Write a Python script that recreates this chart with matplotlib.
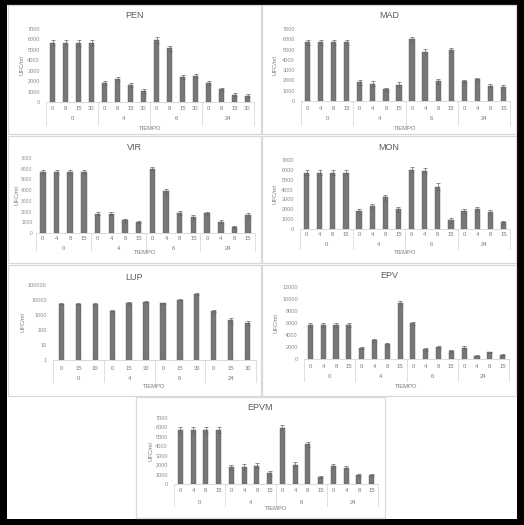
import matplotlib
matplotlib.use("Agg")
import matplotlib.pyplot as plt
from matplotlib.patches import Rectangle
from matplotlib.lines import Line2D
from matplotlib import transforms
import numpy as np

plt.rcParams["font.family"] = ["Liberation Sans", "DejaVu Sans"]

W, H = 524, 525
DPI = 100

# ---- data -------------------------------------------------------------
GROUPS = ["0", "4", "6", "24"]
SUB_A = ["0", "8", "15", "30"]
SUB_B = ["0", "4", "8", "15"]
SUB_C = ["0", "15", "30"]

pen_values = [5700, 5700, 5650, 5700, 1800, 2200, 1600, 1050,
              5950, 5150, 2400, 2500, 1850, 1200, 700, 600]
pen_err = [250, 250, 250, 250, 200, 200, 200, 150,
           250, 250, 200, 200, 200, 150, 150, 150]

mad_values = [5700, 5700, 5700, 5700, 1800, 1700, 1150, 1600,
              6000, 4800, 1900, 5000, 1900, 2100, 1500, 1400]
mad_err = [250, 250, 250, 250, 200, 200, 150, 200,
           200, 250, 200, 200, 150, 150, 150, 150]

vir_values = [5700, 5700, 5700, 5700, 1800, 1800, 1200, 1050,
              6000, 3900, 1850, 1500, 1850, 1050, 600, 1650]
vir_err = [200, 200, 200, 200, 150, 150, 150, 100,
           200, 250, 200, 150, 150, 150, 100, 200]

mon_values = [5700, 5700, 5700, 5700, 1800, 2300, 3200, 2000,
              6000, 5900, 4300, 900, 1850, 2000, 1750, 700]
mon_err = [250, 250, 250, 250, 200, 250, 300, 250,
           250, 250, 350, 250, 200, 200, 200, 150]

lup_values = [5600, 5600, 5600, 1900, 6300, 7300,
              5900, 10500, 25700, 1900, 460, 316]
lup_err = [500, 500, 500, 200, 600, 700,
           600, 1000, 3000, 200, 150, 100]

epv_values = [5700, 5700, 5700, 5700, 1830, 3100, 2500, 9330,
              6000, 1600, 2000, 1280, 1900, 560, 1100, 670]
epv_err = [300, 300, 300, 300, 200, 300, 250, 400,
           250, 200, 200, 200, 200, 100, 150, 100]

epvm_values = [5700, 5700, 5700, 5700, 1780, 1780, 1960, 1150,
               5980, 2060, 4200, 700, 1890, 1750, 950, 950]
epvm_err = [300, 300, 300, 300, 250, 300, 250, 250,
            250, 250, 300, 100, 200, 200, 150, 100]

TICKS_7000 = [0, 1000, 2000, 3000, 4000, 5000, 6000, 7000]
TICKS_12000 = [0, 2000, 4000, 6000, 8000, 10000, 12000]
TICKS_LOG = [1, 10, 100, 1000, 10000, 100000]

# ---- figure -----------------------------------------------------------
fig = plt.figure(figsize=(W / DPI, H / DPI), dpi=DPI)
fig.patch.set_facecolor("black")


def fx(x):
    return x / W


def fy(y):
    return 1 - y / H


# white sheet inside the dark frame
fig.patches.append(Rectangle((fx(7), fy(519)), (517 - 7) / W, (519 - 5) / H,
                             transform=fig.transFigure, facecolor="white",
                             edgecolor="none", zorder=-5))

TICK_COLOR = "#8c8c8c"
TEXT_COLOR = "#7a7a7a"
TITLE_COLOR = "#5a5a5a"
LINE_COLOR = "#d9d9d9"
BAR_COLOR = "#777777"


def draw_panel(panel, axbox, title, title_dy, values, errs, subs, ticks,
               tick_dy, group_dy, label_dy, box_dy, ylabel_x,
               log=False, width=0.4, ypad=4.5, ysize=4.0):
    pl, pt, pr, pb = panel
    fig.patches.append(Rectangle((fx(pl), fy(pb)), (pr - pl) / W, (pb - pt) / H,
                                 transform=fig.transFigure, facecolor="none",
                                 edgecolor=LINE_COLOR, lw=0.9, zorder=-4))
    al, at, ar, ab = axbox
    ax = fig.add_axes([fx(al), fy(ab), (ar - al) / W, (ab - at) / H])
    ax.set_zorder(2)
    ax.patch.set_alpha(0)
    n = len(values)
    x = np.arange(n)
    base = 1 if log else 0
    if log:
        ax.set_yscale("log")
    ax.bar(x, np.array(values) - base, bottom=base, width=width,
           color=BAR_COLOR, edgecolor="#5e5e5e", lw=0.3, zorder=2)
    ax.errorbar(x, values, yerr=errs, fmt="none", ecolor="#666666",
                elinewidth=0.5, capsize=1.6, capthick=0.5, zorder=3)
    ax.set_ylim(ticks[0], ticks[-1])
    ax.set_yticks(ticks)
    ax.set_yticklabels([str(t) for t in ticks])
    ax.minorticks_off()
    ax.set_xlim(-0.5, n - 0.5)
    ax.set_xticks([])
    for s in ax.spines.values():
        s.set_visible(False)
    ax.tick_params(axis="y", length=0, pad=ypad, labelsize=ysize,
                   labelcolor=TICK_COLOR)

    # baseline
    ax.add_line(Line2D([-0.5, n - 0.5], [base, base],
                       color=LINE_COLOR, lw=0.7, zorder=1, clip_on=False))

    trans = transforms.blended_transform_factory(ax.transData, fig.transFigure)
    per = len(subs)
    full_subs = subs * len(GROUPS)
    for i, lab in enumerate(full_subs):
        ax.text(i, fy(ab + tick_dy), lab, transform=trans, ha="center",
                va="center", fontsize=4.2, color=TEXT_COLOR, clip_on=False)
    for g, lab in enumerate(GROUPS):
        cx = g * per + (per - 1) / 2
        ax.text(cx, fy(ab + group_dy), lab, transform=trans, ha="center",
                va="center", fontsize=4.2, color=TEXT_COLOR, clip_on=False)
    for g in range(len(GROUPS) + 1):
        xb = g * per - 0.5
        ax.add_line(Line2D([xb, xb], [fy(ab + 1), fy(ab + box_dy)],
                           transform=trans, color=LINE_COLOR, lw=0.6,
                           clip_on=False))
    ax_fig = transforms.blended_transform_factory(ax.transAxes, fig.transFigure)
    ax.text(0.5, fy(ab + label_dy), "TIEMPO", transform=ax_fig,
            ha="center", va="center", fontsize=4.2, color=TEXT_COLOR,
            clip_on=False)
    fig.text(fx(ylabel_x), fy((at + ab) / 2), "UFC/ml", rotation=90,
             ha="center", va="center", fontsize=4.2, color=TEXT_COLOR)
    fig.text(fx((pl + pr) / 2), fy(pt + title_dy), title, ha="center",
             va="center", fontsize=6.5, color=TITLE_COLOR)
    return ax


draw_panel((8, 5, 261, 134), (46, 29, 254, 102), "PEN", 11,
           pen_values, pen_err, SUB_A, TICKS_7000, 6, 16, 26, 23, 22)
draw_panel((262, 5, 516, 134), (301, 29, 510, 101), "MAD", 11,
           mad_values, mad_err, SUB_B, TICKS_7000, 7, 17, 27, 24, 275)
draw_panel((8, 136, 261, 263), (36, 158, 255, 233), "VIR", 12,
           vir_values, vir_err, SUB_B, TICKS_7000, 5, 15, 20, 18, 17,
           ypad=2.5, ysize=3.6)
draw_panel((262, 136, 516, 263), (300, 160, 510, 229), "MON", 12,
           mon_values, mon_err, SUB_B, TICKS_7000, 6, 15, 24, 20, 275)
draw_panel((8, 265, 261, 396), (53, 285, 256, 360), "LUP", 12,
           lup_values, lup_err, SUB_C, TICKS_LOG, 8, 18, 27, 22, 23,
           log=True, width=0.32)
draw_panel((262, 265, 516, 396), (304, 287, 509, 359), "EPV", 10,
           epv_values, epv_err, SUB_B, TICKS_12000, 8, 18, 27, 22, 276)
draw_panel((136, 397, 385, 518), (174, 418, 378, 484), "EPVM", 10,
           epvm_values, epvm_err, SUB_B, TICKS_7000, 6, 18, 25, 22, 151)

fig.savefig("out.png", dpi=DPI, facecolor=fig.get_facecolor())
